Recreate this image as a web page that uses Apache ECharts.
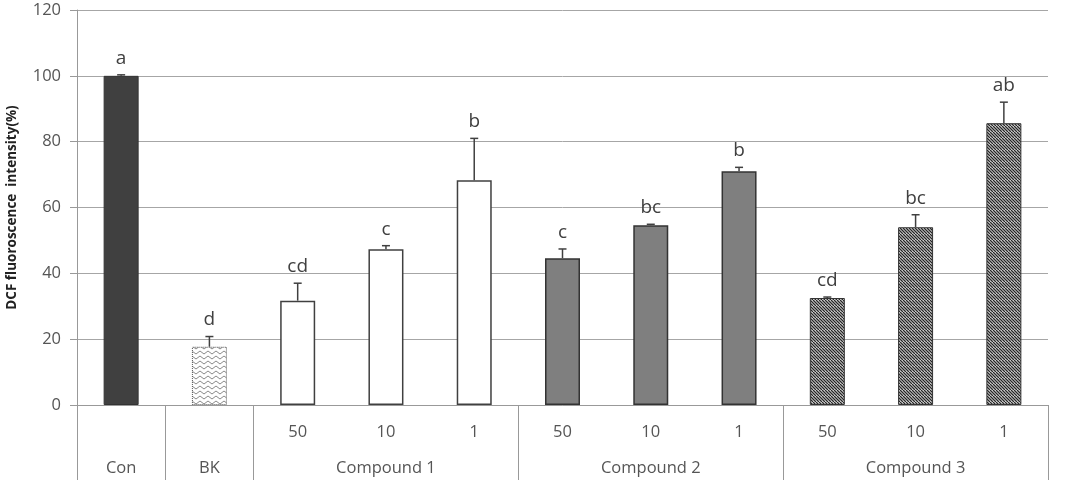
<!DOCTYPE html>
<html lang="en">
<head>
  <meta charset="UTF-8">
  <title>DCF fluorescence</title>
  <script src="https://cdn.jsdelivr.net/npm/echarts@6/dist/echarts.min.js"></script>
</head>
<body style="margin:0">
  <div id="main" style="width:1073px;height:484px"></div>
  <script>
    // 数据
    var doseLabels = ['', '', '50', '10', '1', '50', '10', '1', '50', '10', '1']
    var groupLabels = ['Con', 'BK', '', 'Compound 1', '', '', 'Compound 2', '', '', 'Compound 3', '']
    var values = [100, 17.7, 31.7, 47.3, 68.3, 44.6, 54.6, 71, 32.5, 54, 85.6]
    var errors = [0.3, 3.1, 5.3, 1.1, 12.7, 2.8, 0.3, 1.2, 0.3, 3.8, 6.4]
    var letters = ['a', 'd', 'cd', 'c', 'b', 'c', 'bc', 'b', 'cd', 'bc', 'ab']
    var yTicks = { min: 0, max: 120, interval: 20 }

    var font = 'Open Sans'

    // 填充图案
    function hatchPattern() {
      var c = document.createElement('canvas')
      c.width = 6; c.height = 6
      var ctx = c.getContext('2d')
      ctx.fillStyle = '#fff'
      ctx.fillRect(0, 0, 6, 6)
      ctx.strokeStyle = '#262626'
      ctx.lineWidth = 1.4
      for (var k = -6; k <= 6; k += 3) {
        ctx.beginPath()
        ctx.moveTo(k, 0)
        ctx.lineTo(k + 6, 6)
        ctx.stroke()
      }
      return { image: c, repeat: 'repeat' }
    }
    function zigzagPattern() {
      var c = document.createElement('canvas')
      c.width = 8; c.height = 5
      var ctx = c.getContext('2d')
      ctx.fillStyle = '#fff'
      ctx.fillRect(0, 0, 8, 5)
      ctx.strokeStyle = '#8a8a8a'
      ctx.lineWidth = 1
      ctx.beginPath()
      ctx.moveTo(0, 1)
      ctx.lineTo(4, 4)
      ctx.lineTo(8, 1)
      ctx.stroke()
      return { image: c, repeat: 'repeat' }
    }

    var styles = [
      { color: '#404040', borderColor: '#333', borderWidth: 1 },
      { color: zigzagPattern(), borderColor: '#555', borderWidth: 1, borderType: 'dotted' },
      { color: '#fff', borderColor: '#404040', borderWidth: 1.5 },
      { color: '#fff', borderColor: '#404040', borderWidth: 1.5 },
      { color: '#fff', borderColor: '#404040', borderWidth: 1.5 },
      { color: '#7f7f7f', borderColor: '#333', borderWidth: 1.5 },
      { color: '#7f7f7f', borderColor: '#333', borderWidth: 1.5 },
      { color: '#7f7f7f', borderColor: '#333', borderWidth: 1.5 },
      { color: hatchPattern(), borderColor: '#333', borderWidth: 1 },
      { color: hatchPattern(), borderColor: '#333', borderWidth: 1 },
      { color: hatchPattern(), borderColor: '#333', borderWidth: 1 }
    ]

    var barData = values.map(function (v, i) {
      return { value: v, itemStyle: styles[i] }
    })
    var errData = values.map(function (v, i) {
      return [i, v, errors[i], letters[i]]
    })

    var mCharts = echarts.init(document.getElementById('main'))
    var option = {
      animation: false,
      grid: { left: 77, right: 25, top: 10, bottom: 79, outerBoundsMode: 'none', containLabel: false },
      xAxis: [
        {
          type: 'category',
          data: doseLabels,
          axisLine: { lineStyle: { color: '#999', width: 1 } },
          axisTick: {
            show: true,
            length: 75,
            lineStyle: { color: '#999' },
            interval: function (i) { return [0, 1, 2, 5, 8].indexOf(i) >= 0 }
          },
          axisLabel: { interval: 0, color: '#555', fontSize: 16.5, fontFamily: font, margin: 19 }
        },
        {
          type: 'category',
          position: 'bottom',
          offset: 37,
          data: groupLabels,
          axisLine: { show: false },
          axisTick: { show: false },
          axisLabel: { interval: 0, color: '#555', fontSize: 16.5, fontFamily: font, margin: 18 }
        }
      ],
      yAxis: {
        type: 'value',
        min: yTicks.min,
        max: yTicks.max,
        interval: yTicks.interval,
        name: 'DCF fluoroscence  intensity(%)',
        nameLocation: 'middle',
        nameGap: 58,
        nameTextStyle: { color: '#222', fontSize: 13.5, fontWeight: 'bold', fontFamily: font },
        axisLine: { show: true, lineStyle: { color: '#999' } },
        axisTick: { show: true, length: 7, lineStyle: { color: '#999' } },
        splitLine: { lineStyle: { color: '#a6a6a6' } },
        axisLabel: { color: '#555', fontSize: 16.5, fontFamily: font, margin: 16 }
      },
      series: [
        {
          type: 'bar',
          barWidth: 35,
          data: barData
        },
        {
          type: 'custom',
          z: 5,
          data: errData,
          renderItem: function (params, api) {
            var i = api.value(0)
            var v = api.value(1)
            var e = api.value(2)
            var base = api.coord([i, v])
            var top = api.coord([i, v + e])
            var cap = 4
            return {
              type: 'group',
              children: [
                {
                  type: 'line',
                  shape: { x1: base[0], y1: base[1], x2: top[0], y2: top[1] },
                  style: { stroke: '#404040', lineWidth: 1.5 }
                },
                {
                  type: 'line',
                  shape: { x1: top[0] - cap, y1: top[1], x2: top[0] + cap, y2: top[1] },
                  style: { stroke: '#404040', lineWidth: 1.5 }
                },
                {
                  type: 'text',
                  x: top[0],
                  y: top[1] - 7,
                  style: {
                    text: letters[params.dataIndex],
                    align: 'center',
                    verticalAlign: 'bottom',
                    fill: '#404040',
                    fontSize: 19,
                    fontFamily: font
                  }
                }
              ]
            }
          }
        }
      ]
    }
    mCharts.setOption(option)
  </script>
</body>
</html>
